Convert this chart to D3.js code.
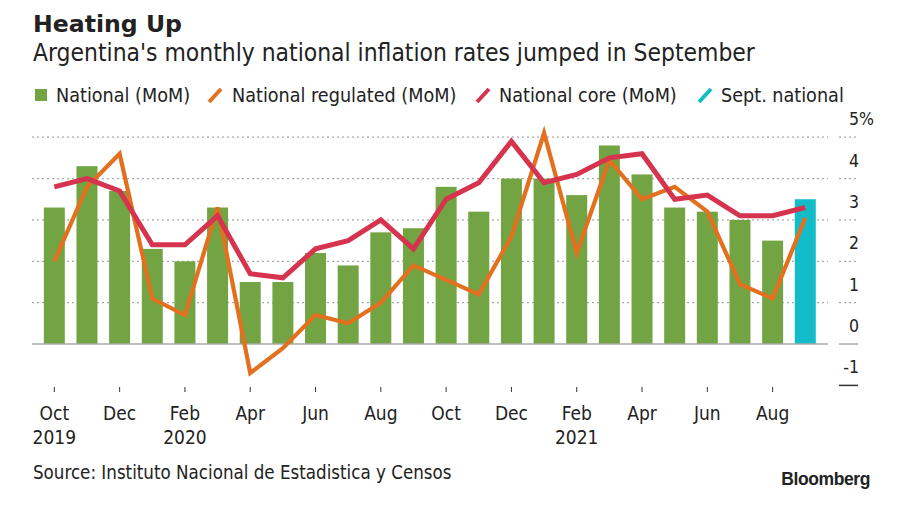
<!DOCTYPE html>
<html><head><meta charset="utf-8">
<script src="https://cdn.jsdelivr.net/npm/d3@7"></script>
<style>
body{margin:0;background:#fff}
svg{display:block}
text{font-family:"DejaVu Sans Condensed","DejaVu Sans",sans-serif;fill:#222}
</style>
</head><body>
<svg id="c" width="900" height="505"></svg>
<script>
// ---- data ----
const months = ["2019-10","2019-11","2019-12","2020-01","2020-02","2020-03","2020-04","2020-05","2020-06","2020-07","2020-08","2020-09","2020-10","2020-11","2020-12","2021-01","2021-02","2021-03","2021-04","2021-05","2021-06","2021-07","2021-08","2021-09"];
const national  = [3.3,4.3,3.7,2.3,2.0,3.3,1.5,1.5,2.2,1.9,2.7,2.8,3.8,3.2,4.0,4.0,3.6,4.8,4.1,3.3,3.2,3.0,2.5,3.5];
const regulated = [2.0,3.8,4.6,1.1,0.7,3.3,-0.7,-0.1,0.7,0.5,1.0,1.9,1.55,1.2,2.6,5.1,2.2,4.45,3.5,3.8,3.2,1.45,1.1,3.05];
const core      = [3.8,4.0,3.7,2.4,2.4,3.1,1.7,1.6,2.3,2.5,3.0,2.3,3.5,3.9,4.9,3.9,4.1,4.5,4.6,3.5,3.6,3.1,3.1,3.3];
const highlightMonth = "2021-09";
const xTickMonths = ["2019-10","2019-12","2020-02","2020-04","2020-06","2020-08","2020-10","2020-12","2021-02","2021-04","2021-06","2021-08"];
const xTickLabels = ["Oct","Dec","Feb","Apr","Jun","Aug","Oct","Dec","Feb","Apr","Jun","Aug"];
const yearMonths = ["2019-10","2020-02","2021-02"];
const yearLabels = ["2019","2020","2021"];
const yTicks = [-1,0,1,2,3,4,5];
const legendLabels = ["National (MoM)","National regulated (MoM)","National core (MoM)","Sept. national"];

// ---- styles ----
const C = {green:"#72a443", orange:"#e3701f", red:"#d6334f", teal:"#12bcc8", grid:"#a9a9a9"};

const svg = d3.select("#c");

// titles
svg.append("text").attr("x",33).attr("y",32).style("font-family","'DejaVu Sans',sans-serif")
  .style("font-weight","bold").style("font-size","23.6px").text("Heating Up");
svg.append("text").attr("x",33).attr("y",61).style("font-size","24.4px")
  .text("Argentina's monthly national inflation rates jumped in September");

// legend
const legX = [35,207,475,697];
const legTX = [56,232,499,721];
const legColors = [C.green, C.orange, C.red, C.teal];
legendLabels.forEach((lab,i)=>{
  if(i===0){
    svg.append("rect").attr("x",legX[i]).attr("y",89).attr("width",12).attr("height",12).attr("fill",legColors[i]);
  } else {
    svg.append("line").attr("x1",legX[i]+2).attr("y1",102).attr("x2",legX[i]+14).attr("y2",89)
      .attr("stroke",legColors[i]).attr("stroke-width",4).attr("stroke-linecap","butt");
  }
  svg.append("text").attr("x",legTX[i]).attr("y",102).style("font-size","19.6px").text(lab);
});

// scales
const x = d3.scaleBand().domain(months).range([38,821.6]).paddingInner(0.357).paddingOuter(0.1785);
const y = d3.scaleLinear().domain([-1,5]).range([385.4,137.2]);
const cx = m => x(m) + x.bandwidth()/2;
const plotL = 32, plotR = 828, tickL = 839, tickR = 858;

// gridlines
const g = svg.append("g");
yTicks.filter(t=>t>0).forEach(t=>{
  g.append("line").attr("x1",plotL).attr("x2",plotR).attr("y1",y(t)).attr("y2",y(t))
    .attr("stroke",C.grid).attr("stroke-width",1.2).attr("stroke-dasharray","2,3");
  g.append("line").attr("x1",tickL).attr("x2",tickR).attr("y1",y(t)).attr("y2",y(t))
    .attr("stroke",C.grid).attr("stroke-width",1.2).attr("stroke-dasharray","2,3");
});
// y labels
yTicks.forEach(t=>{
  svg.append("text").attr("x",859).attr("y",y(t)-12).attr("text-anchor","end")
    .style("font-size","17.5px").text(t<0? "-"+Math.abs(t) : t);
  if(t===5) svg.append("text").attr("x",859).attr("y",y(t)-12).style("font-size","17.5px").text("%");
});
// -1 axis line
svg.append("line").attr("x1",tickL).attr("x2",tickR).attr("y1",y(-1)).attr("y2",y(-1))
  .attr("stroke","#333").attr("stroke-width",1.5);

// bars
svg.append("g").selectAll("rect").data(months).join("rect")
  .attr("x",m=>x(m)).attr("width",x.bandwidth())
  .attr("y",(m,i)=>y(Math.max(0,national[i])))
  .attr("height",(m,i)=>Math.abs(y(national[i])-y(0)))
  .attr("fill",m=>m===highlightMonth?C.teal:C.green);

// zero line
svg.append("line").attr("x1",plotL).attr("x2",plotR).attr("y1",y(0)).attr("y2",y(0))
  .attr("stroke","#aaa").attr("stroke-width",1.5);
svg.append("line").attr("x1",tickL).attr("x2",tickR).attr("y1",y(0)).attr("y2",y(0))
  .attr("stroke","#aaa").attr("stroke-width",1.5);

// lines
const line = arr => d3.line().x((d,i)=>cx(months[i])).y(d=>y(d))(arr);
svg.append("path").attr("d",line(regulated)).attr("fill","none").attr("stroke",C.orange).attr("stroke-width",4.2);
svg.append("path").attr("d",line(core)).attr("fill","none").attr("stroke",C.red).attr("stroke-width",5);

// x axis
const xa = svg.append("g");
xTickMonths.forEach((m,i)=>{
  xa.append("line").attr("x1",cx(m)).attr("x2",cx(m)).attr("y1",387).attr("y2",392)
    .attr("stroke","#333").attr("stroke-width",1);
  xa.append("text").attr("x",cx(m)).attr("y",420).attr("text-anchor","middle")
    .style("font-size","19px").text(xTickLabels[i]);
});
yearMonths.forEach((m,i)=>{
  xa.append("text").attr("x",cx(m)).attr("y",444).attr("text-anchor","middle")
    .style("font-size","19px").text(yearLabels[i]);
});

// source & logo
svg.append("text").attr("x",33).attr("y",479).style("font-size","18.6px")
  .text("Source: Instituto Nacional de Estadistica y Censos");
svg.append("text").attr("x",870).attr("y",485).attr("text-anchor","end")
  .style("font-family","'Liberation Sans',Arial,sans-serif").style("font-weight","bold")
  .style("font-size","17.5px").style("letter-spacing","-0.4px").text("Bloomberg");
</script>
</body></html>
